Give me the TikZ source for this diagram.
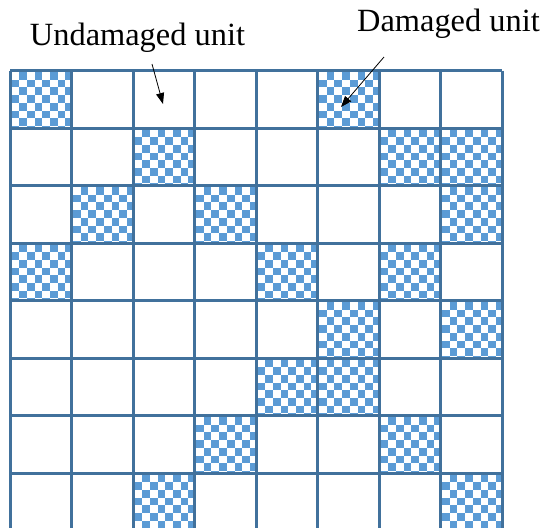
\documentclass[tikz,border=0pt]{standalone}
\usepackage{fontspec}
\setmainfont{Liberation Serif}
\usetikzlibrary{arrows.meta}
\definecolor{gridc}{HTML}{41719C}
\definecolor{chk}{HTML}{5B9BD5}
\tikzset{
  label/.style={anchor=base, inner sep=0pt, font=\fontsize{32.4}{38}\selectfont},
  pointer/.style={black, line width=0.8pt, -{Triangle[length=11pt,width=8pt]}},
  gridline/.style={gridc, line width=3pt},
  checkfill/.style={chk}
}
\begin{document}
\begin{tikzpicture}[x=1pt,y=-1pt]
\useasboundingbox (0,0) rectangle (542,528);
\clip (0,0) rectangle (542,528);
\fill[white] (0,0) rectangle (542,528);
\def\cw{61.5}
\def\chh{57.5}
\def\xo{10}
\def\yo{70.5}
\def\sq{7.7}
% damaged cells (row/col)
\foreach \r/\c in {0/0,0/5,1/2,1/6,1/7,2/1,2/3,2/7,3/0,3/4,3/6,4/5,4/7,5/4,5/5,6/3,6/6,7/2,7/7}{
  \begin{scope}
    \pgfmathsetmacro\cx{\xo+\c*\cw}
    \pgfmathsetmacro\cy{\yo+\r*\chh}
    \clip (\cx,\cy) rectangle ++(\cw,\chh);
    \foreach \i in {0,...,7}{
      \foreach \j in {0,...,7}{
        \pgfmathtruncatemacro\k{mod(\i+\j,2)}
        \ifnum\k=1
          \fill[checkfill] (\cx+1.5+\i*\sq,\cy+1.5+\j*\sq) rectangle ++(\sq,\sq);
        \fi
      }
    }
  \end{scope}
}
% grid
\foreach \i in {0,...,8}{
  \draw[gridline] (\xo+\i*\cw,\yo) -- (\xo+\i*\cw,\yo+8*\chh);
  \draw[gridline] (\xo,\yo+\i*\chh) -- (\xo+8*\cw,\yo+\i*\chh);
}
% labels
\node[label] (undam) at (137.5,45) {Undamaged unit};
\node[label] (dam) at (448.5,31) {Damaged unit};
\coordinate (ustart) at (152,64);
\coordinate (utip) at (163,104);
\coordinate (dstart) at (384,57);
\coordinate (dtip) at (341,107);
\draw[pointer] (ustart) -- (utip);
\draw[pointer] (dstart) -- (dtip);
\end{tikzpicture}
\end{document}
